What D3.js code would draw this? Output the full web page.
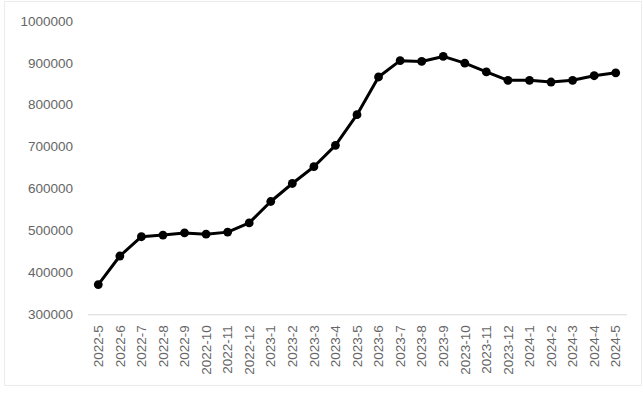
<!DOCTYPE html>
<html>
<head>
<meta charset="utf-8">
<script src="https://cdn.jsdelivr.net/npm/d3@7"></script>
<style>
  html, body { margin: 0; padding: 0; background: #fff; }
  svg { display: block; }
  text { font-family: "Liberation Sans", Arial, sans-serif; }
</style>
</head>
<body>
<svg id="chart" width="643" height="395"></svg>
<script>
// Monthly series, 2022-5 through 2024-5
const months = [
  "2022-5", "2022-6", "2022-7", "2022-8", "2022-9", "2022-10", "2022-11", "2022-12",
  "2023-1", "2023-2", "2023-3", "2023-4", "2023-5", "2023-6", "2023-7", "2023-8",
  "2023-9", "2023-10", "2023-11", "2023-12", "2024-1", "2024-2", "2024-3", "2024-4", "2024-5"
];
const values = [
  371000, 439000, 485000, 489000, 494000, 491000, 496000, 518000,
  569000, 612000, 652000, 703000, 776000, 866000, 905000, 903000,
  915000, 899000, 878000, 858000, 858000, 854000, 858000, 869000, 876000
];
const yTicks = [300000, 400000, 500000, 600000, 700000, 800000, 900000, 1000000];

const svg = d3.select("#chart");
const W = 643, H = 395;
const plot = { left: 87.5, right: 626.5, top: 20.8, bottom: 314.3 };

// faint outer frame of the chart area
svg.append("rect")
  .attr("x", 4.5).attr("y", 1.5)
  .attr("width", W - 6).attr("height", H - 11)
  .attr("fill", "none").attr("stroke", "#ececec").attr("stroke-width", 1);

const x = d3.scaleBand().domain(months).range([plot.left, plot.right]);
const y = d3.scaleLinear().domain([300000, 1000000]).range([plot.bottom, plot.top]);

// y axis labels (no axis line)
const yAxis = d3.axisLeft(y).tickValues(yTicks).tickSize(0).tickPadding(0).tickFormat(d3.format("d"));
const gy = svg.append("g").attr("transform", "translate(73,0)").call(yAxis);
gy.select(".domain").remove();
gy.selectAll("text")
  .attr("fill", "#666")
  .style("font-size", "13.5px");

// x axis baseline and rotated month labels
const xAxis = d3.axisBottom(x).tickSize(0).tickPadding(0);
const gx = svg.append("g").attr("transform", `translate(0,${plot.bottom})`).call(xAxis);
gx.select(".domain").attr("stroke", "#d9d9d9").attr("stroke-width", 1);
gx.selectAll("text")
  .attr("fill", "#666")
  .style("font-size", "13.5px")
  .attr("text-anchor", "end")
  .attr("dy", "0.35em")
  .attr("transform", "translate(0,11) rotate(-90)")
  .attr("x", 0).attr("y", 0);

const pts = months.map((m, i) => ({ m, v: values[i] }));
const cx = d => x(d.m) + x.bandwidth() / 2;

svg.append("path")
  .datum(pts)
  .attr("fill", "none")
  .attr("stroke", "#000")
  .attr("stroke-width", 3)
  .attr("stroke-linejoin", "round")
  .attr("d", d3.line().x(cx).y(d => y(d.v)));

svg.append("g").selectAll("circle")
  .data(pts)
  .join("circle")
  .attr("cx", cx)
  .attr("cy", d => y(d.v))
  .attr("r", 4.4)
  .attr("fill", "#000");
</script>
</body>
</html>
